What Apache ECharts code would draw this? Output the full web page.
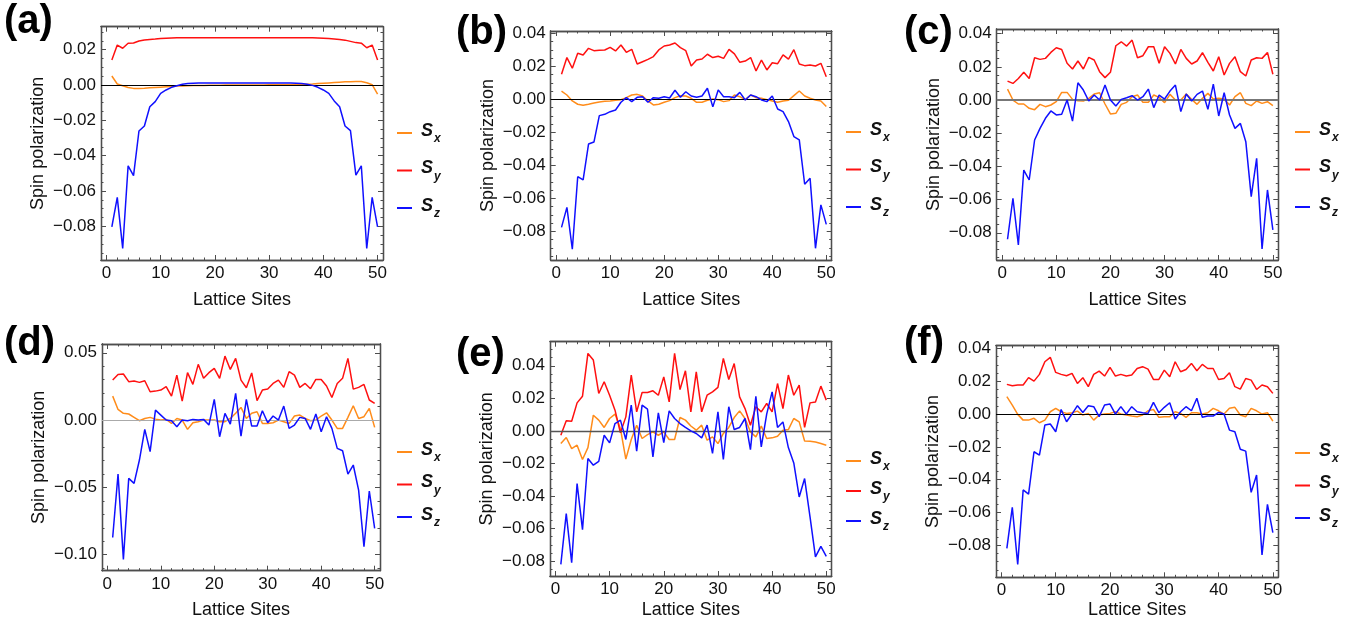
<!DOCTYPE html>
<html>
<head>
<meta charset="utf-8">
<script src="https://cdn.jsdelivr.net/npm/echarts@6/dist/echarts.min.js"></script>
<style>
html,body{margin:0;padding:0;background:#fff;}
#chart{width:1367px;height:633px;}
</style>
</head>
<body>
<div id="chart"></div>
<script>
// Lattice site index (x) shared by every panel
const latticeSites = [1,2,3,4,5,6,7,8,9,10,11,12,13,14,15,16,17,18,19,20,21,22,23,24,25,
  26,27,28,29,30,31,32,33,34,35,36,37,38,39,40,41,42,43,44,45,46,47,48,49,50];

const seriesNames = ['Sx', 'Sy', 'Sz'];
const panelLetters = ['(a)', '(b)', '(c)', '(d)', '(e)', '(f)'];
const xTickValues = [0, 10, 20, 30, 40, 50];
const yTicksA = [-0.08, -0.06, -0.04, -0.02, 0, 0.02];
const yTicksB = [-0.08, -0.06, -0.04, -0.02, 0, 0.02, 0.04];
const yTicksC = [-0.08, -0.06, -0.04, -0.02, 0, 0.02, 0.04];
const yTicksD = [-0.10, -0.05, 0, 0.05];
const yTicksE = [-0.08, -0.06, -0.04, -0.02, 0, 0.02, 0.04];
const yTicksF = [-0.08, -0.06, -0.04, -0.02, 0, 0.02, 0.04];

// (a)
const aSx = [0.0051,0.0006,-0.0004,-0.0014,-0.0019,-0.0019,-0.0018,-0.0016,-0.0014,-0.0012,
  -0.0010,-0.0008,-0.0006,-0.0005,-0.0004,-0.0003,-0.0002,-0.0002,-0.0001,-0.0001,
  -0.0001,0,0,0,0,0,0,0,0,0.0001,
  0.0001,0.0001,0.0002,0.0002,0.0003,0.0004,0.0005,0.0006,0.0008,0.0010,
  0.0012,0.0014,0.0016,0.0018,0.0019,0.0020,0.0020,0.0013,0.0002,-0.0051];
const aSy = [0.0142,0.0226,0.0208,0.0236,0.0238,0.0249,0.0255,0.0258,0.0260,0.0263,
  0.0265,0.0266,0.0267,0.0268,0.0268,0.0268,0.0268,0.0268,0.0268,0.0268,
  0.0268,0.0268,0.0268,0.0268,0.0268,0.0268,0.0268,0.0268,0.0268,0.0268,
  0.0268,0.0268,0.0268,0.0268,0.0268,0.0268,0.0267,0.0267,0.0266,0.0265,
  0.0263,0.0261,0.0258,0.0254,0.0247,0.0240,0.0237,0.0211,0.0226,0.0142];
const aSz = [-0.0802,-0.0636,-0.0925,-0.0457,-0.0513,-0.0260,-0.0232,-0.0123,-0.0094,-0.0047,
  -0.0028,-0.0013,-0.0004,0.0004,0.0008,0.0010,0.0011,0.0012,0.0012,0.0012,
  0.0012,0.0012,0.0012,0.0012,0.0012,0.0012,0.0012,0.0012,0.0012,0.0012,
  0.0012,0.0012,0.0012,0.0011,0.0010,0.0008,0.0004,-0.0002,-0.0013,-0.0028,
  -0.0047,-0.0090,-0.0123,-0.0232,-0.0258,-0.0510,-0.0457,-0.0925,-0.0636,-0.0802];

// (b)
const bSx = [0.0050,0.0026,-0.0010,-0.0030,-0.0036,-0.0030,-0.0022,-0.0016,-0.0012,-0.0010,
  -0.0006,-0.0002,0.0010,0.0026,0.0030,0.0020,-0.0010,-0.0034,-0.0030,-0.0018,
  -0.0008,0.0010,0.0022,0.0020,0.0006,-0.0018,-0.0018,-0.0006,0.0002,-0.0002,
  -0.0014,-0.0008,0.0026,0.0016,-0.0002,0.0026,0.0010,0.0006,-0.0002,-0.0010,
  -0.0018,-0.0010,-0.0006,0.0022,0.0050,0.0020,0.0006,-0.0004,-0.0010,-0.0044];
const bSy = [0.0152,0.0253,0.0188,0.0279,0.0269,0.0309,0.0295,0.0297,0.0299,0.0315,
  0.0293,0.0329,0.0285,0.0303,0.0214,0.0228,0.0242,0.0259,0.0299,0.0323,
  0.0329,0.0341,0.0313,0.0295,0.0202,0.0238,0.0244,0.0273,0.0253,0.0261,
  0.0248,0.0303,0.0275,0.0224,0.0232,0.0253,0.0172,0.0238,0.0178,0.0222,
  0.0216,0.0269,0.0244,0.0301,0.0214,0.0204,0.0208,0.0202,0.0218,0.0137];
const bSz = [-0.0776,-0.0655,-0.0909,-0.0469,-0.0489,-0.0271,-0.0259,-0.0099,-0.0091,-0.0075,
  -0.0065,-0.0018,0.0010,-0.0014,0.0012,0.0016,-0.0018,0.0010,0.0006,0.0016,
  0.0008,0.0055,0.0012,0.0046,0.0020,0.0012,0.0020,0.0067,-0.0046,0.0057,
  0.0016,0.0016,0.0010,0.0042,-0.0004,0.0026,0.0016,-0.0004,-0.0014,0.0020,
  -0.0059,-0.0075,-0.0135,-0.0226,-0.0246,-0.0515,-0.0479,-0.0903,-0.0640,-0.0758];

// (c)
const cSx = [0.0066,0.0000,-0.0024,-0.0024,-0.0050,-0.0058,-0.0026,-0.0040,-0.0030,-0.0010,
  0.0046,0.0046,0.0004,-0.0004,-0.0006,0.0010,0.0036,0.0044,-0.0024,-0.0084,
  -0.0080,-0.0026,-0.0014,0.0020,0.0030,-0.0014,-0.0014,0.0030,0.0016,-0.0016,
  0.0034,0.0000,0.0000,0.0036,0.0004,-0.0026,0.0010,0.0040,0.0006,0.0010,
  0.0006,-0.0030,0.0020,0.0044,-0.0020,-0.0034,-0.0006,-0.0020,-0.0010,-0.0034];
const cSy = [0.0114,0.0100,0.0130,0.0167,0.0130,0.0255,0.0245,0.0251,0.0287,0.0315,
  0.0305,0.0221,0.0187,0.0235,0.0187,0.0257,0.0241,0.0171,0.0135,0.0167,
  0.0327,0.0351,0.0325,0.0361,0.0255,0.0267,0.0321,0.0321,0.0221,0.0321,
  0.0281,0.0217,0.0305,0.0251,0.0217,0.0235,0.0285,0.0227,0.0175,0.0261,
  0.0151,0.0221,0.0261,0.0171,0.0145,0.0241,0.0255,0.0251,0.0287,0.0155];
const cSz = [-0.0839,-0.0592,-0.0873,-0.0422,-0.0482,-0.0241,-0.0171,-0.0110,-0.0066,-0.0090,
  -0.0086,0.0000,-0.0127,0.0104,0.0060,-0.0006,0.0030,0.0000,0.0090,0.0000,
  -0.0036,0.0004,0.0014,0.0026,0.0000,0.0020,0.0066,-0.0046,0.0030,0.0006,
  0.0054,0.0090,-0.0070,0.0036,-0.0006,0.0034,0.0054,-0.0056,0.0096,-0.0096,
  0.0044,-0.0090,-0.0171,-0.0141,-0.0251,-0.0582,-0.0351,-0.0898,-0.0542,-0.0783];

// (d)
const dSx = [0.0178,0.0079,0.0050,0.0045,0.0020,-0.0005,0.0012,0.0020,0.0007,0.0000,
  0.0005,-0.0025,0.0012,0.0000,-0.0069,-0.0020,-0.0012,0.0000,0.0000,0.0000,
  -0.0012,-0.0012,0.0012,0.0050,0.0094,0.0012,0.0050,0.0062,-0.0025,-0.0025,
  -0.0020,0.0000,-0.0012,-0.0025,0.0030,0.0037,0.0012,-0.0005,0.0000,0.0030,
  0.0054,0.0000,-0.0062,-0.0062,0.0020,0.0106,0.0012,0.0025,0.0087,-0.0054];
const dSy = [0.0297,0.0339,0.0342,0.0285,0.0290,0.0280,0.0292,0.0210,0.0215,0.0223,
  0.0248,0.0178,0.0334,0.0141,0.0352,0.0265,0.0414,0.0310,0.0352,0.0384,
  0.0310,0.0475,0.0376,0.0458,0.0297,0.0240,0.0350,0.0144,0.0223,0.0230,
  0.0272,0.0297,0.0243,0.0359,0.0334,0.0243,0.0272,0.0233,0.0302,0.0302,
  0.0253,0.0168,0.0272,0.0310,0.0458,0.0230,0.0243,0.0265,0.0149,0.0124];
const dSz = [-0.0872,-0.0401,-0.1035,-0.0433,-0.0470,-0.0297,-0.0069,-0.0235,0.0074,0.0037,
  0.0000,-0.0005,-0.0050,0.0000,-0.0005,0.0005,0.0000,0.0005,-0.0037,0.0154,
  -0.0124,0.0050,-0.0030,0.0198,-0.0119,0.0154,-0.0045,-0.0045,0.0069,-0.0020,
  0.0030,0.0000,0.0104,-0.0062,-0.0037,0.0020,0.0012,-0.0069,0.0045,-0.0087,
  0.0025,-0.0062,-0.0210,-0.0228,-0.0401,-0.0334,-0.0520,-0.0941,-0.0527,-0.0805];

// (e)
const eSx = [-0.0078,-0.0041,-0.0109,-0.0088,-0.0176,-0.0103,0.0096,0.0066,0.0021,0.0076,
  0.0103,0.0014,-0.0174,-0.0053,0.0035,-0.0047,-0.0023,-0.0006,-0.0027,-0.0006,
  -0.0053,-0.0053,0.0082,0.0066,0.0030,0.0004,0.0035,-0.0057,-0.0037,-0.0078,
  -0.0016,0.0021,0.0082,0.0123,0.0076,-0.0006,-0.0037,0.0029,-0.0047,-0.0043,
  -0.0033,0.0004,0.0008,0.0076,0.0055,-0.0062,-0.0064,-0.0068,-0.0078,-0.0088];
const eSy = [-0.0027,0.0062,0.0059,0.0172,0.0213,0.0476,0.0435,0.0230,0.0302,0.0219,
  0.0127,-0.0012,0.0086,0.0343,0.0117,0.0236,0.0236,0.0246,0.0219,0.0332,
  0.0178,0.0476,0.0254,0.0369,0.0117,0.0363,0.0117,0.0219,0.0240,0.0267,
  0.0445,0.0316,0.0414,0.0209,0.0137,0.0035,0.0148,0.0117,0.0168,0.0117,
  0.0291,0.0137,0.0343,0.0219,0.0281,0.0021,0.0172,0.0178,0.0275,0.0189];
const eSz = [-0.0821,-0.0509,-0.0810,-0.0324,-0.0607,-0.0170,-0.0211,-0.0187,-0.0027,-0.0074,
  0.0045,0.0066,-0.0053,0.0158,-0.0125,0.0158,0.0133,-0.0160,0.0111,-0.0072,
  0.0123,0.0076,0.0045,0.0021,0.0000,-0.0016,-0.0043,0.0035,-0.0139,0.0117,
  -0.0176,0.0148,0.0008,0.0021,0.0076,-0.0115,0.0213,-0.0098,0.0103,0.0240,
  0.0021,0.0055,-0.0103,-0.0197,-0.0406,-0.0293,-0.0529,-0.0775,-0.0710,-0.0771];

// (f)
const fSx = [0.0106,0.0055,-0.0002,-0.0037,-0.0037,-0.0026,-0.0053,-0.0037,0.0014,0.0035,
  0.0014,0.0004,0.0008,0.0018,-0.0006,0.0004,-0.0037,-0.0006,0.0000,0.0004,
  0.0014,0.0000,-0.0006,-0.0012,-0.0016,-0.0006,0.0020,0.0028,-0.0020,-0.0016,
  -0.0016,0.0014,0.0004,-0.0020,0.0008,0.0008,0.0000,0.0008,0.0035,0.0020,
  0.0000,0.0035,0.0041,-0.0006,-0.0016,0.0035,0.0020,0.0000,0.0008,-0.0043];
const fSy = [0.0181,0.0173,0.0177,0.0177,0.0222,0.0201,0.0242,0.0319,0.0346,0.0254,
  0.0242,0.0234,0.0248,0.0187,0.0222,0.0167,0.0242,0.0262,0.0232,0.0285,
  0.0232,0.0242,0.0232,0.0238,0.0278,0.0289,0.0274,0.0211,0.0211,0.0268,
  0.0228,0.0319,0.0258,0.0272,0.0309,0.0264,0.0303,0.0278,0.0278,0.0211,
  0.0217,0.0252,0.0167,0.0152,0.0217,0.0207,0.0150,0.0177,0.0167,0.0126];
const fSz = [-0.0819,-0.0569,-0.0917,-0.0463,-0.0488,-0.0230,-0.0250,-0.0067,-0.0061,-0.0108,
  0.0028,-0.0047,0.0000,0.0051,0.0010,0.0051,0.0045,-0.0016,0.0055,0.0061,
  0.0000,0.0045,0.0000,0.0045,0.0014,0.0008,0.0004,0.0071,0.0008,0.0041,
  0.0069,-0.0030,0.0014,0.0045,0.0020,0.0096,-0.0020,-0.0012,-0.0012,0.0010,
  0.0000,-0.0098,-0.0108,-0.0215,-0.0226,-0.0478,-0.0372,-0.0860,-0.0551,-0.0724];

const seriesColors = { Sx: '#ff8c1a', Sy: '#ff1010', Sz: '#1010ff' };
const FRAME = '#4d4d4d';
const TEXT = '#111';
const FONT = '"Liberation Sans", Arial, Helvetica, sans-serif';

// Layout of each panel: frame box (px), axis extents, legend placement, zero-line style
const panels = [
  { letter: panelLetters[0], letterAt: [4, 2], box: [101, 26.7, 282, 233.3], yRange: [-0.0990, 0.0330],
    yTicks: yTicksA, yMinorStep: 0.005, data: [aSx, aSy, aSz], zero: ['#000', 1.1],
    legend: [397, 132, 38], yNameGap: 54, xNameGap: 31 },
  { letter: panelLetters[1], letterAt: [456, 13], box: [550.7, 31, 281, 229], yRange: [-0.0974, 0.0414],
    yTicks: yTicksB, yMinorStep: 0.005, data: [bSx, bSy, bSz], zero: ['#000', 1.1],
    legend: [846, 131, 38], yNameGap: 54, xNameGap: 31 },
  { letter: panelLetters[2], letterAt: [904, 13], box: [996.7, 29, 281.6, 231], yRange: [-0.0964, 0.0428],
    yTicks: yTicksC, yMinorStep: 0.005, data: [cSx, cSy, cSz], zero: ['#777', 2],
    legend: [1295, 131, 38], yNameGap: 54, xNameGap: 31 },
  { letter: panelLetters[3], letterAt: [4, 324], box: [102, 344, 278, 226.7], yRange: [-0.1119, 0.0565],
    yTicks: yTicksD, yMinorStep: 0.01, data: [dSx, dSy, dSz], zero: ['#aaa', 1.1],
    legend: [397, 451, 33], yNameGap: 54, xNameGap: 30 },
  { letter: panelLetters[4], letterAt: [456, 335], box: [550, 341.7, 281.7, 234.3], yRange: [-0.0892, 0.0548],
    yTicks: yTicksE, yMinorStep: 0.005, data: [eSx, eSy, eSz], zero: ['#555', 1.4],
    legend: [846, 460, 30.5], yNameGap: 54, xNameGap: 25 },
  { letter: panelLetters[5], letterAt: [904, 324], box: [996, 345.7, 282.3, 231.6], yRange: [-0.0996, 0.0417],
    yTicks: yTicksF, yMinorStep: 0.005, data: [fSx, fSy, fSz], zero: ['#000', 1.1],
    legend: [1295, 452, 33], yNameGap: 54, xNameGap: 24 }
];
const X_RANGE = [-1, 51];
const X_MINOR_STEP = 2;

function minorValues(range, step, majors) {
  const out = [];
  const start = Math.ceil(range[0] / step - 1e-9);
  const end = Math.floor(range[1] / step + 1e-9);
  for (let k = start; k <= end; k++) {
    const v = Math.round(k * step * 1e6) / 1e6;
    if (!majors.some(m => Math.abs(m - v) < 1e-9)) out.push(v);
  }
  return out;
}

function frameAxis(gridIndex, position, range, tickValues, tickLen) {
  return {
    type: 'value', gridIndex, position, min: range[0], max: range[1],
    axisLine: { show: true, onZero: false, lineStyle: { color: FRAME, width: 1.3 } },
    axisTick: { show: true, inside: true, length: tickLen, customValues: tickValues,
      lineStyle: { color: FRAME, width: 1 } },
    axisLabel: { show: false },
    splitLine: { show: false }, minorTick: { show: false }, minorSplitLine: { show: false },
    silent: true, nameMoveOverlap: false
  };
}

const fmtY = v => (Math.abs(v) < 1e-9 ? '0.00' : v.toFixed(2).replace('-', '\u2212'));

const grids = [], xAxes = [], yAxes = [], series = [], legends = [], graphics = [];

panels.forEach((p, k) => {
  const [left, top, width, height] = p.box;
  grids.push({ left, top, width, height, containLabel: false, outerBoundsMode: 'none', show: false });

  // bottom axis carries the labels and the title
  const xb = frameAxis(k, 'bottom', X_RANGE, xTickValues, 5);
  xb.axisLabel = { show: true, customValues: xTickValues, margin: 5, color: TEXT,
    fontSize: 17, fontFamily: FONT };
  xb.name = 'Lattice Sites';
  xb.nameLocation = 'middle';
  xb.nameGap = p.xNameGap;
  xb.nameTextStyle = { fontSize: 18, color: TEXT, fontFamily: FONT, verticalAlign: 'top' };
  const xMinor = minorValues(X_RANGE, X_MINOR_STEP, xTickValues);
  xAxes.push(xb,
    frameAxis(k, 'bottom', X_RANGE, xMinor, 2.5),
    frameAxis(k, 'top', X_RANGE, xTickValues, 5),
    frameAxis(k, 'top', X_RANGE, xMinor, 2.5));

  const yl = frameAxis(k, 'left', p.yRange, p.yTicks, 5);
  yl.axisLabel = { show: true, customValues: p.yTicks, margin: 5, color: TEXT,
    fontSize: 17, fontFamily: FONT, formatter: fmtY };
  yl.name = 'Spin polarization';
  yl.nameLocation = 'middle';
  yl.nameGap = p.yNameGap;
  yl.nameTextStyle = { fontSize: 18, color: TEXT, fontFamily: FONT };
  const yMinor = minorValues(p.yRange, p.yMinorStep, p.yTicks);
  yAxes.push(yl,
    frameAxis(k, 'left', p.yRange, yMinor, 2.5),
    frameAxis(k, 'right', p.yRange, p.yTicks, 5),
    frameAxis(k, 'right', p.yRange, yMinor, 2.5));

  seriesNames.forEach((name, j) => {
    const values = p.data[j];
    const s = {
      name, type: 'line', xAxisIndex: k * 4, yAxisIndex: k * 4,
      data: latticeSites.map((site, i) => [site, values[i]]),
      symbol: 'none', showSymbol: false, smooth: false,
      lineStyle: { width: 1.5, color: seriesColors[name] },
      itemStyle: { color: seriesColors[name] },
      emphasis: { disabled: true }, silent: true, animation: false, z: 3 + j
    };
    if (j === 0) {
      s.markLine = { silent: true, symbol: 'none', animation: false, label: { show: false },
        lineStyle: { color: p.zero[0], width: p.zero[1], type: 'solid' },
        emphasis: { disabled: true }, data: [{ yAxis: 0 }] };
    }
    series.push(s);
  });

  const rowH = 24;
  const [lx, ly, spacing] = p.legend;
  legends.push({
    data: seriesNames, orient: 'vertical', left: lx, top: ly - 11,
    padding: 0, itemWidth: 15, itemHeight: 2, itemGap: spacing - 24.5, icon: 'rect',
    selectedMode: false,
    formatter: n => '{s|S}{sub|' + n.slice(1) + '}',
    textStyle: {
      rich: {
        s: { fontSize: 18, fontWeight: 'bold', fontStyle: 'italic', fontFamily: FONT,
          color: TEXT, lineHeight: rowH, verticalAlign: 'top', padding: [1, 0, 0, 4] },
        sub: { fontSize: 12, fontWeight: 'bold', fontStyle: 'italic', fontFamily: FONT,
          color: TEXT, lineHeight: rowH, verticalAlign: 'bottom', padding: [0, 0, 0, 1] }
      }
    }
  });

  graphics.push({
    type: 'text', left: p.letterAt[0], top: p.letterAt[1], silent: true,
    style: { text: p.letter, fontSize: 40, fontWeight: 'bold', fontFamily: FONT, fill: '#000' }
  });
});

const chart = echarts.init(document.getElementById('chart'), null, { renderer: 'canvas' });
chart.setOption({
  backgroundColor: '#fff',
  animation: false,
  grid: grids,
  xAxis: xAxes,
  yAxis: yAxes,
  legend: legends,
  graphic: graphics,
  series
});
</script>
</body>
</html>
